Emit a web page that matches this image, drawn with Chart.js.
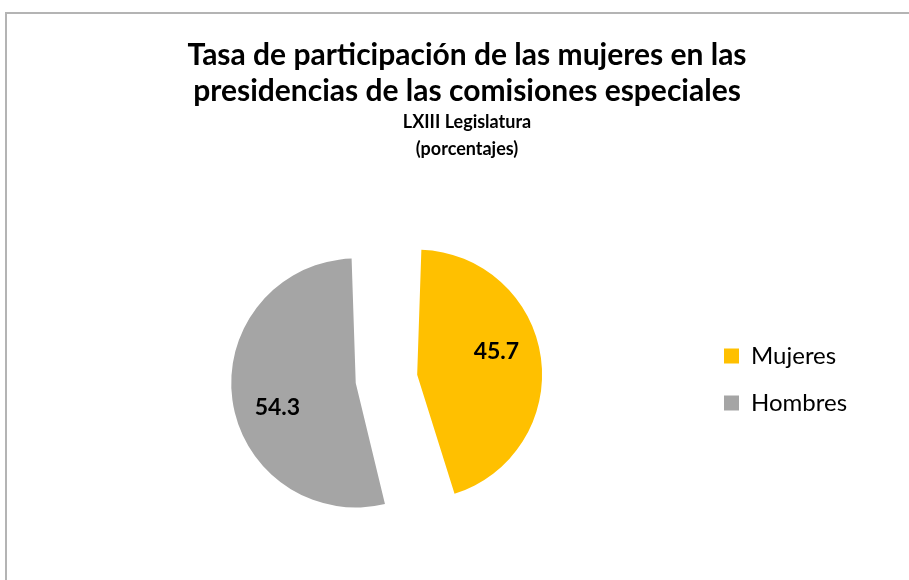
<!DOCTYPE html>
<html>
<head>
<meta charset="utf-8">
<script src="https://cdn.jsdelivr.net/npm/chart.js@4.4.1/dist/chart.umd.min.js"></script>
<style>
  body { margin: 0; background: #fff; overflow: hidden; }
  #frame { position: absolute; left: 5px; top: 12px; width: 1000px; height: 1000px;
           border-left: 2px solid #b4b4b4; border-top: 2px solid #b4b4b4; }
  #wrap { position: absolute; left: 0; top: 0; width: 909px; height: 580px; }
</style>
</head>
<body>
<div id="frame"></div>
<div id="wrap"><canvas id="myChart"></canvas></div>
<script>
const categories = ['Mujeres', 'Hombres'];
const values = [45.7, 54.3];
const colors = ['#FFC000', '#A5A5A5'];
const titleLines = ['Tasa de participación de las mujeres en las', 'presidencias de las comisiones especiales'];
const subtitleLines = ['LXIII Legislatura', '(porcentajes)'];

// value labels inside the slices
const pieLabels = {
    id: 'pieLabels',
    afterDatasetsDraw(chart) {
        const ctx = chart.ctx;
        const meta = chart.getDatasetMeta(0);
        ctx.save();
        ctx.font = 'bold 23px Lato';
        ctx.fillStyle = '#000';
        ctx.textAlign = 'center';
        ctx.textBaseline = 'middle';
        meta.data.forEach((arc, i) => {
            const {x, y, startAngle, endAngle, outerRadius} = arc.getProps(['x', 'y', 'startAngle', 'endAngle', 'outerRadius']);
            const shift = arc.options.offset / 4;
            const circ = endAngle - startAngle;
            const mid = (startAngle + endAngle) / 2;
            const r = outerRadius + shift * (1 - Math.sin(Math.min(Math.PI, circ)));
            const cx = x + Math.cos(mid) * shift;
            const cy = y + Math.sin(mid) * shift;
            const a = startAngle + circ * 0.45;
            ctx.fillText(values[i].toFixed(1), cx + Math.cos(a) * r * 0.66, cy + Math.sin(a) * r * 0.66);
        });
        ctx.restore();
    }
};

// widen the legend box so the pie sits left of centre like the original
const legendWidth = {
    id: 'legendWidth',
    beforeInit(chart) {
        const fit = chart.legend.fit;
        chart.legend.fit = function () {
            fit.call(this);
            this.width = 171;
        };
    }
};

const ctx = document.getElementById('myChart');
const myChart = new Chart(ctx, {
    type: 'pie',
    data: {
        labels: categories,
        datasets: [{
            data: values,
            backgroundColor: colors,
            borderWidth: 0,
            offset: [144, 104]
        }]
    },
    options: {
        responsive: true,
        maintainAspectRatio: false,
        animation: false,
        layout: {
            padding: {left: 62, right: 37, top: 0, bottom: 30}
        },
        plugins: {
            title: {
                display: true,
                text: titleLines,
                color: '#000',
                font: {family: 'Lato', size: 30, weight: 'bold', lineHeight: '36px'},
                padding: {top: 37, bottom: 0}
            },
            subtitle: {
                display: true,
                text: subtitleLines,
                color: '#000',
                font: {family: 'Lato', size: 18, weight: 'bold', lineHeight: '27px'},
                padding: {top: 0, bottom: 46}
            },
            legend: {
                position: 'right',
                fullSize: false,
                labels: {
                    boxWidth: 15,
                    boxHeight: 15,
                    padding: 23,
                    color: '#000',
                    font: {family: 'Lato', size: 24}
                }
            },
            tooltip: {enabled: false}
        }
    },
    plugins: [pieLabels, legendWidth]
});
</script>
</body>
</html>
